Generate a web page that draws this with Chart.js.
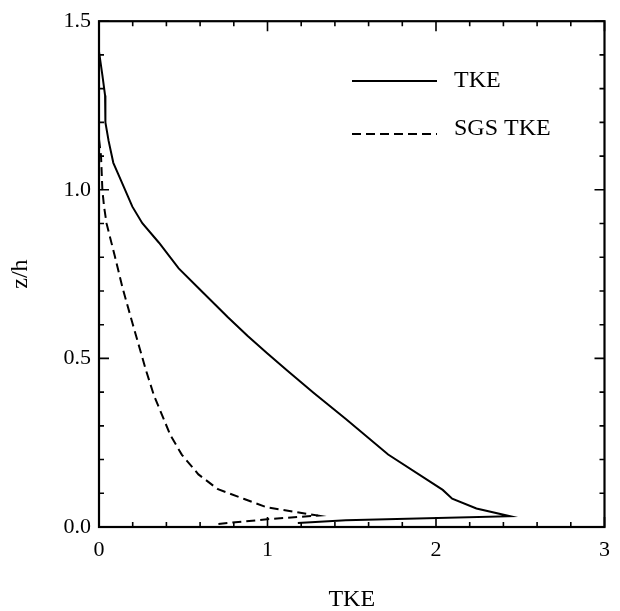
<!DOCTYPE html>
<html>
<head>
<meta charset="utf-8">
<script src="https://cdn.jsdelivr.net/npm/chart.js@4.4.1/dist/chart.umd.min.js"></script>
<style>
  html, body { margin: 0; padding: 0; background: #fff; }
  #wrap { width: 620px; height: 611px; }
</style>
</head>
<body>
<div id="wrap"><canvas id="profileChart" width="620" height="611"></canvas></div>
<script>
// TKE profile (resolved): x = TKE, z = z/h
const tkeX = [0.0, 0.0, 0.02, 0.036, 0.036, 0.04, 0.057, 0.085, 0.12, 0.198, 0.257, 0.356, 0.473, 0.59, 0.765, 0.881, 0.998, 1.115, 1.273, 1.465, 1.716, 2.04, 2.096, 2.24, 2.44, 1.465, 1.18];
const tkeZ = [1.47, 1.41, 1.34, 1.28, 1.24, 1.20, 1.145, 1.08, 1.04, 0.95, 0.901, 0.843, 0.767, 0.709, 0.622, 0.567, 0.515, 0.465, 0.398, 0.32, 0.215, 0.11, 0.084, 0.055, 0.032, 0.02, 0.012];

// SGS TKE profile
const sgsX = [0.0, 0.012, 0.02, 0.03, 0.045, 0.093, 0.14, 0.2, 0.239, 0.278, 0.327, 0.375, 0.424, 0.492, 0.59, 0.706, 0.862, 0.998, 1.30, 0.998, 0.706];
const sgsZ = [1.15, 1.10, 1.0, 0.95, 0.90, 0.805, 0.709, 0.602, 0.534, 0.466, 0.389, 0.331, 0.272, 0.214, 0.156, 0.112, 0.083, 0.058, 0.034, 0.023, 0.009];

const seriesLabels = ['TKE', 'SGS TKE'];
const xTicks = [0, 1, 2, 3];
const yTicks = [0.0, 0.5, 1.0, 1.5];

const serif = '"Liberation Serif", "DejaVu Serif", serif';

function toPoints(xs, zs) {
    return xs.map((x, i) => ({ x: x, y: zs[i] }));
}

// frame with inward ticks on all four sides, plus the in-plot legend
const framePlugin = {
    id: 'frame',
    afterDraw(chart) {
        const { ctx, chartArea: a, scales } = chart;
        const xs = scales.x, ys = scales.y;
        ctx.save();
        ctx.strokeStyle = '#000';
        ctx.lineWidth = 2.2;
        ctx.setLineDash([]);
        ctx.strokeRect(a.left, a.top, a.right - a.left, a.bottom - a.top);

        ctx.lineWidth = 1.6;
        // x ticks: minor every 0.2, major every 1
        for (let i = 0; i <= 15; i++) {
            const v = i * 0.2;
            const px = xs.getPixelForValue(v);
            const len = (i % 5 === 0) ? 10 : 5;
            ctx.beginPath();
            ctx.moveTo(px, a.bottom); ctx.lineTo(px, a.bottom - len);
            ctx.moveTo(px, a.top); ctx.lineTo(px, a.top + len);
            ctx.stroke();
        }
        // y ticks: minor every 0.1, major every 0.5
        for (let i = 0; i <= 15; i++) {
            const v = i * 0.1;
            const py = ys.getPixelForValue(v);
            const len = (i % 5 === 0) ? 10 : 5;
            ctx.beginPath();
            ctx.moveTo(a.left, py); ctx.lineTo(a.left + len, py);
            ctx.moveTo(a.right, py); ctx.lineTo(a.right - len, py);
            ctx.stroke();
        }

        // legend
        const lx0 = 352, lx1 = 437, tx = 454;
        const rows = [81, 134];
        ctx.font = '24px ' + serif;
        ctx.fillStyle = '#000';
        ctx.textBaseline = 'middle';
        chart.data.datasets.forEach((ds, i) => {
            ctx.lineWidth = ds.borderWidth;
            ctx.setLineDash(ds.borderDash || []);
            ctx.beginPath();
            ctx.moveTo(lx0, rows[i]); ctx.lineTo(lx1, rows[i]);
            ctx.stroke();
            ctx.setLineDash([]);
            ctx.fillText(ds.label, tx, rows[i] + (i === 1 ? -5 : 0));
        });
        ctx.restore();
    }
};

const ctx = document.getElementById('profileChart').getContext('2d');
const chart = new Chart(ctx, {
    type: 'line',
    data: {
        datasets: [{
            label: seriesLabels[0],
            data: toPoints(tkeX, tkeZ),
            borderColor: '#000',
            borderWidth: 2,
            pointRadius: 0,
            tension: 0,
            fill: false,
        }, {
            label: seriesLabels[1],
            data: toPoints(sgsX, sgsZ),
            borderColor: '#000',
            borderWidth: 2,
            borderDash: [9, 5],
            pointRadius: 0,
            tension: 0,
            fill: false,
        }],
    },
    options: {
        responsive: false,
        animation: false,
        layout: { padding: { top: 11, right: 7, left: 0, bottom: 0 } },
        plugins: {
            legend: { display: false },
            tooltip: { enabled: false },
        },
        scales: {
            x: {
                type: 'linear',
                min: 0,
                max: 3,
                afterFit: (s) => { s.height = 84; },
                afterBuildTicks: (s) => { s.ticks = xTicks.map(v => ({ value: v })); },
                grid: { display: false, drawTicks: false },
                border: { display: false },
                ticks: {
                    padding: 10,
                    color: '#000',
                    font: { family: serif, size: 22 },
                    callback: (v) => String(v),
                },
                title: {
                    display: true,
                    text: 'TKE',
                    color: '#000',
                    font: { family: serif, size: 24, lineHeight: 1 },
                    padding: { top: 0, bottom: -1 },
                },
            },
            y: {
                type: 'linear',
                min: 0,
                max: 1.5,
                afterFit: (s) => { s.width = 99; },
                afterBuildTicks: (s) => { s.ticks = yTicks.map(v => ({ value: v })); },
                grid: { display: false, drawTicks: false },
                border: { display: false },
                ticks: {
                    padding: 8,
                    color: '#000',
                    font: { family: serif, size: 22 },
                    callback: (v) => Number(v).toFixed(1),
                },
                title: {
                    display: true,
                    text: 'z/h',
                    color: '#000',
                    font: { family: serif, size: 24 },
                    padding: { top: 6, bottom: 0 },
                },
            },
        },
    },
    plugins: [framePlugin],
});
</script>
</body>
</html>
